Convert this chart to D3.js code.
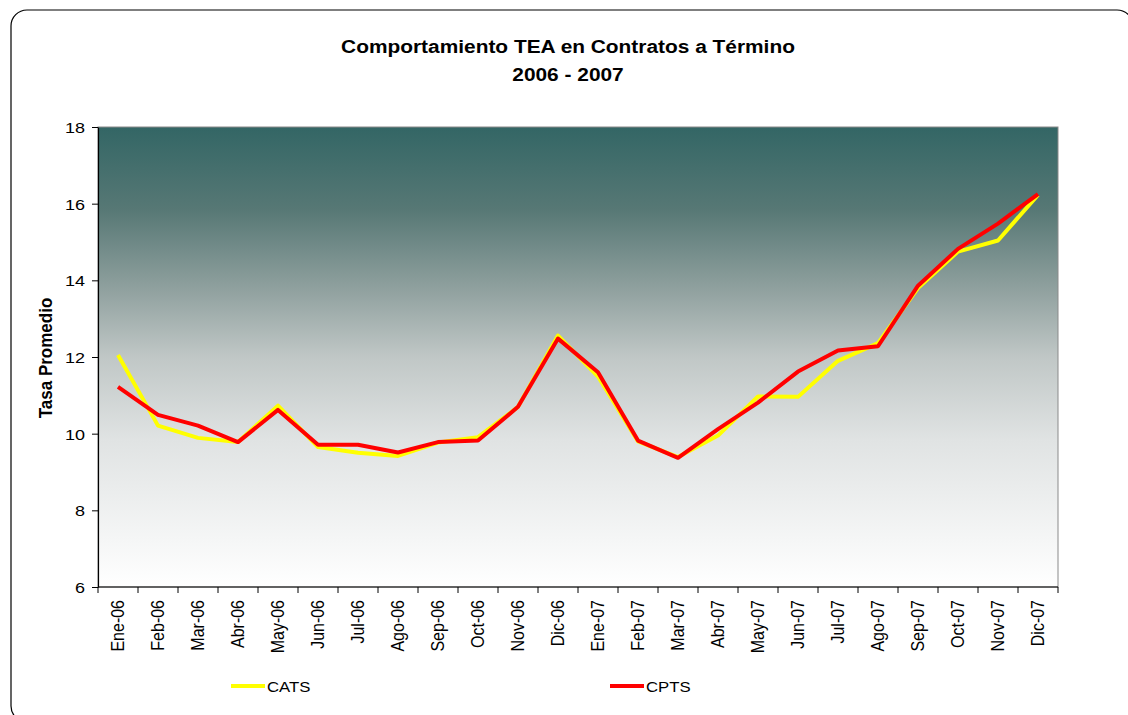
<!DOCTYPE html>
<html>
<head>
<meta charset="utf-8">
<script src="https://cdn.jsdelivr.net/npm/d3@7"></script>
<style>
  body { margin: 0; background: #fff; }
  svg { display: block; font-family: "Liberation Sans", Arial, sans-serif; }
</style>
</head>
<body>
<div class="canvas"></div>
<script>
// data
const months = ["Ene-06","Feb-06","Mar-06","Abr-06","May-06","Jun-06","Jul-06","Ago-06","Sep-06","Oct-06","Nov-06","Dic-06",
                "Ene-07","Feb-07","Mar-07","Abr-07","May-07","Jun-07","Jul-07","Ago-07","Sep-07","Oct-07","Nov-07","Dic-07"];
const cats = [12.05,10.21,9.89,9.78,10.73,9.65,9.50,9.42,9.77,9.91,10.70,12.56,
              11.49,9.80,9.39,9.95,10.97,10.96,11.90,12.36,13.80,14.75,15.04,16.23];
const cpts = [11.22,10.49,10.21,9.78,10.62,9.71,9.71,9.51,9.78,9.82,10.70,12.48,
              11.60,9.82,9.37,10.12,10.81,11.62,12.17,12.28,13.86,14.82,15.48,16.25];
const yTicks = [6,8,10,12,14,16,18];

const width = 1128, height = 715;
const margin = {top: 127, right: 70, bottom: 128, left: 98};
const graphWidth = width - margin.left - margin.right;
const graphHeight = height - margin.top - margin.bottom;

const svg = d3.select(".canvas")
              .append("svg")
              .attr("width", width)
              .attr("height", height);

// outer rounded frame
svg.append("rect")
   .attr("x", 11).attr("y", 10)
   .attr("width", 1122).attr("height", 712)
   .attr("rx", 16)
   .attr("fill", "none")
   .attr("stroke", "#000")
   .attr("stroke-width", 1.2);

// title (text in the picture is a bit stretched sideways)
const title = svg.append("text")
   .attr("transform", "translate(568,0) scale(1.16,1)")
   .attr("text-anchor", "middle")
   .attr("font-weight", "bold")
   .attr("font-size", 18);
title.append("tspan").attr("x", 0).attr("y", 53).text("Comportamiento TEA en Contratos a Término");
title.append("tspan").attr("x", 0).attr("y", 81.5).text("2006 - 2007");

// gradient background
const grad = svg.append("defs").append("linearGradient")
   .attr("id", "bg").attr("x1", 0).attr("y1", 0).attr("x2", 0).attr("y2", 1);
[[0, "#336665"], [0.18, "#577875"], [0.35, "#8fa09e"], [0.5, "#c0c7c6"], [0.68, "#e0e3e3"], [1, "#ffffff"]]
  .forEach(([o, c]) => grad.append("stop").attr("offset", o).attr("stop-color", c));

const graph = svg.append("g")
   .attr("transform", `translate(${margin.left},${margin.top})`);

graph.append("rect")
   .attr("width", graphWidth).attr("height", graphHeight)
   .attr("fill", "url(#bg)")
   .attr("stroke", "#8a8a8a")
   .attr("stroke-width", 1);

const x = d3.scaleBand()
   .domain(months)
   .range([0, graphWidth]);

const y = d3.scaleLinear()
   .domain([6, 18])
   .range([graphHeight, 0]);

// y axis
const yAxis = graph.append("g")
   .call(d3.axisLeft(y).tickValues(yTicks).tickSize(6).tickSizeOuter(0));
yAxis.select(".domain").attr("stroke", "#000").attr("stroke-width", 1.2);
yAxis.selectAll("text").remove();
yAxis.selectAll(".tick").append("text")
     .attr("transform", "translate(-13,0) scale(1.2,1)")
     .attr("dy", "0.36em")
     .attr("text-anchor", "end")
     .attr("font-size", 15)
     .attr("font-family", "Liberation Sans, Arial, sans-serif")
     .attr("fill", "#000")
     .text(d => d);

// x axis: ticks between categories
const xAxis = graph.append("g")
   .attr("transform", `translate(0,${graphHeight})`);
xAxis.append("line")
   .attr("x1", 0).attr("x2", graphWidth)
   .attr("stroke", "#000").attr("stroke-width", 1.2);
xAxis.selectAll(".tk")
   .data(months.concat(["end"]))
   .enter().append("line")
   .attr("class", "tk")
   .attr("x1", (d, i) => i * x.bandwidth())
   .attr("x2", (d, i) => i * x.bandwidth())
   .attr("y1", 0).attr("y2", 6)
   .attr("stroke", "#000");
xAxis.selectAll(".lbl")
   .data(months)
   .enter().append("text")
   .attr("class", "lbl")
   .attr("transform", d => `translate(${x(d) + x.bandwidth() / 2 + 6},13) scale(1.1,1) rotate(-90)`)
   .attr("text-anchor", "end")
   .attr("font-size", 16)
   .text(d => d);

// axis title
svg.append("text")
   .attr("transform", "translate(52,358) scale(1.1,1) rotate(-90)")
   .attr("text-anchor", "middle")
   .attr("font-weight", "bold")
   .attr("font-size", 17)
   .text("Tasa Promedio");

// lines
const line = d3.line()
   .x((d, i) => x(months[i]) + x.bandwidth() / 2)
   .y(d => y(d));

graph.append("path")
   .datum(cats)
   .attr("d", line)
   .attr("fill", "none")
   .attr("stroke", "#ffff00")
   .attr("stroke-width", 4)
   .attr("stroke-linejoin", "round");

graph.append("path")
   .datum(cpts)
   .attr("d", line)
   .attr("fill", "none")
   .attr("stroke", "#ff0000")
   .attr("stroke-width", 4)
   .attr("stroke-linejoin", "round");

// legend
const legend = [{name: "CATS", color: "#ffff00", x: 231}, {name: "CPTS", color: "#ff0000", x: 610}];
const lg = svg.selectAll(".legend")
   .data(legend)
   .enter().append("g")
   .attr("transform", d => `translate(${d.x},686)`);
lg.append("line")
   .attr("x1", 0).attr("x2", 34)
   .attr("stroke", d => d.color)
   .attr("stroke-width", 4);
lg.append("text")
   .attr("transform", "translate(36,6) scale(1.08,1)")
   .attr("font-size", 15.5)
   .text(d => d.name);
</script>
</body>
</html>
